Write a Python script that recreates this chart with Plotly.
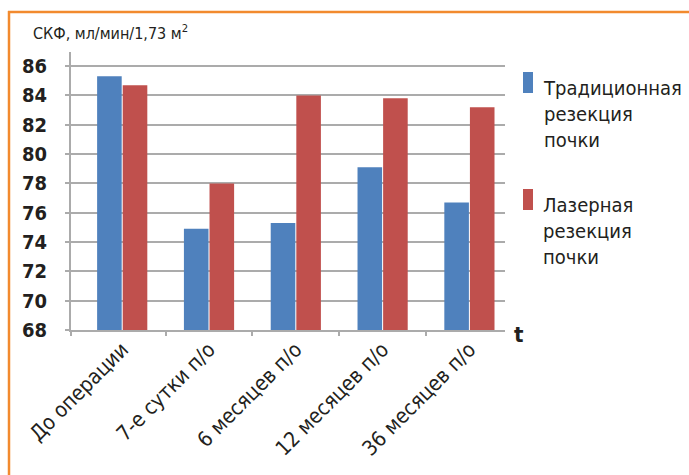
import plotly.graph_objects as go

# Data
categories = ["До операции", "7-е сутки п/о", "6 месяцев п/о", "12 месяцев п/о", "36 месяцев п/о"]
traditional = [85.3, 74.9, 75.3, 79.1, 76.7]
laser = [84.7, 78.0, 84.0, 83.8, 83.2]
series_names = ["Традиционная<br>резекция<br>почки", "Лазерная<br>резекция<br>почки"]
series_colors = ["#4F81BD", "#C0504D"]
y_ticks = [68, 70, 72, 74, 76, 78, 80, 82, 84, 86]

W, H = 689, 475
L, R, T, B = 71, 505, 52, 330  # plot area in pixels


def px(x):
    return (x - L) / (R - L)


def py(y):
    return (B - y) / (B - T)


idx = list(range(len(categories)))
fig = go.Figure()
for name, vals, col in zip(series_names, [traditional, laser], series_colors):
    fig.add_trace(go.Bar(x=idx, y=vals, name=name, marker=dict(color=col, line=dict(width=0)),
                         showlegend=False))

font_narrow = "DejaVu Sans Condensed, Roboto, sans-serif"
grid_col = "#ABABAB"
text_col = "#231F20"

fig.update_layout(
    width=W, height=H,
    margin=dict(l=L, r=W - R, t=T, b=H - B, pad=0),
    paper_bgcolor="white", plot_bgcolor="white",
    barmode="group", bargap=0.41, bargroupgap=0.04,
    xaxis=dict(
        range=[-0.59, 4.41], tickvals=idx, ticktext=categories, tickangle=-45,
        ticks="", showgrid=False, showline=True, linecolor=grid_col, linewidth=2,
        tickfont=dict(family=font_narrow, size=21, color=text_col), zeroline=False,
        ticklabelstandoff=-3,
    ),
    xaxis2=dict(
        overlaying="x", range=[-0.59, 4.41], tickvals=[-0.59, 0.5, 1.5, 2.5, 3.5],
        showticklabels=False, ticks="outside", ticklen=5, tickwidth=2, tickcolor=grid_col,
        showgrid=False, showline=False, zeroline=False, side="bottom", anchor="y",
    ),
    yaxis=dict(
        range=[68, 86.96], tickvals=y_ticks, ticks="outside", ticklen=4, tickwidth=2,
        tickcolor=grid_col, showgrid=True, gridcolor=grid_col, gridwidth=2,
        showline=True, linecolor=grid_col, linewidth=2, zeroline=False,
        tickfont=dict(family=font_narrow, size=20, color=text_col, weight="bold"),
        ticklabelstandoff=14,
    ),
)
# invisible trace that activates the tick marks between groups
fig.add_trace(go.Scatter(x=[0], y=[68], xaxis="x2", mode="markers",
                         marker=dict(opacity=0), showlegend=False, hoverinfo="skip"))

# frame
fig.add_shape(type="line", xref="paper", yref="paper", x0=px(9), x1=px(9), y0=py(11), y1=py(490),
              line=dict(color="#F28A2E", width=2.5))
fig.add_shape(type="line", xref="paper", yref="paper", x0=px(8), x1=px(700), y0=py(12), y1=py(12),
              line=dict(color="#F28A2E", width=2.5))

# y title
fig.add_annotation(xref="paper", yref="paper", x=px(31), y=py(32), xanchor="left", yanchor="middle",
                   text="СКФ, мл/мин/1,73 м<sup>2</sup>", showarrow=False,
                   font=dict(family=font_narrow, size=16, color=text_col))
# axis letter
fig.add_annotation(xref="paper", yref="paper", x=px(519), y=py(335), xanchor="center", yanchor="middle",
                   text="t", showarrow=False,
                   font=dict(family=font_narrow, size=22, color=text_col, weight="bold"))

# legend
for i, (name, col) in enumerate(zip(series_names, series_colors)):
    top = 72 + i * 117
    fig.add_shape(type="rect", xref="paper", yref="paper", x0=px(523), x1=px(533),
                  y0=py(top), y1=py(top + 21), fillcolor=col, line=dict(width=0))
    fig.add_annotation(xref="paper", yref="paper", x=px(541), y=py(top + 42), xanchor="left",
                       yanchor="middle", align="left", text=name, showarrow=False,
                       font=dict(family=font_narrow, size=20, color=text_col))

fig.write_html("out.html")
